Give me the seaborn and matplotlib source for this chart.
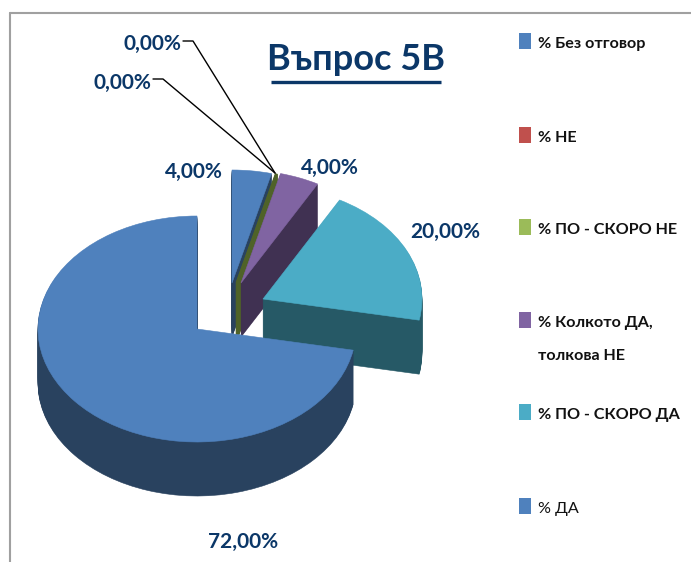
import matplotlib
matplotlib.use("Agg")
import matplotlib.pyplot as plt
import seaborn as sns

categories = ["% Без отговор", "% НЕ", "% ПО - СКОРО НЕ",
              "% Колкото ДА,\nтолкова НЕ", "% ПО - СКОРО ДА", "% ДА"]
values = [4, 0, 0, 4, 20, 72]
value_labels = ["4,00%", "0,00%", "0,00%", "4,00%", "20,00%", "72,00%"]
title = "Въпрос 5В"

top_colors = sns.color_palette(["#4F81BD", "#C0504D", "#4F6228", "#8064A2", "#4BACC6", "#4F81BD"])
wall_colors = sns.color_palette(["#29425F", "#632423", "#4F6228", "#403152", "#265966", "#29425F"])
legend_colors = ["#4F81BD", "#C0504D", "#9BBB59", "#8064A2", "#4BACC6", "#4F81BD"]

W, H = 691, 562
RX, RY = 159, 113
DEPTH = 54
SQUASH = RY / RX
TEXT_BLUE = "#0B3768"

sns.set_theme(style="white")
plt.rcParams["font.family"] = ["Lato", "Roboto", "DejaVu Sans"]

# apex of every slice in image pixels (the slices are pulled apart by different amounts)
apex = [(232, 283), (237, 283), (237, 283), (241, 283), (263, 299), (197, 329)]
# zero slices only show through their edge
edge_widths = [0.4, 0, 2.2, 0.4, 0.4, 0.4]
label_pos = [(194, 172), (122, 83), (152, 44), (330, 168), (445, 232), (243, 542)]


def to_data(px, py):
    return px, (H - py) / SQUASH


def draw_layer(ax, offset, colors, z_step):
    wedges, _ = ax.pie(values, startangle=90, counterclock=False, radius=RX)
    for i, wedge in enumerate(wedges):
        wedge.set_center(to_data(apex[i][0], apex[i][1] + offset))
        wedge.set_facecolor(colors[i])
        wedge.set_edgecolor(colors[i])
        wedge.set_linewidth(edge_widths[i])
        wedge.set_zorder(2 * i + z_step)


fig = plt.figure(figsize=(W / 100, H / 100), dpi=100)
ax = fig.add_axes([0, 0, 1, 1])

for offset in range(DEPTH, 0, -1):
    draw_layer(ax, offset, wall_colors, 1)
draw_layer(ax, 0, top_colors, 2)

ax.set_aspect("auto")
ax.set_xlim(0, W)
ax.set_ylim(0, H / SQUASH)

# overlay in pixel coordinates for the texts, leaders and legend
ov = fig.add_axes([0, 0, 1, 1], zorder=5)
ov.set_xlim(0, W)
ov.set_ylim(H, 0)
ov.axis("off")
ov.patch.set_alpha(0)

ov.text(356, 60, title, fontsize=26, fontweight="bold", color=TEXT_BLUE, ha="center", va="center")
ov.plot([271, 441], [82, 82], color=TEXT_BLUE, lw=2.4, solid_capstyle="butt")

for lab, (x, y) in zip(value_labels, label_pos):
    ov.text(x, y, lab, fontsize=15, fontweight="bold", color=TEXT_BLUE, ha="center", va="center")

# leader lines of the two zero labels
ov.plot([183, 193, 275], [41, 41, 173], color="black", lw=1)
ov.plot([153, 163, 275], [79, 79, 173], color="black", lw=1)

# legend
legend_y = [41, 135, 227, 320, 412, 506]
for cat, col, y in zip(categories, legend_colors, legend_y):
    ov.add_patch(plt.Rectangle((519, y - 8), 12, 16, color=col, lw=0))
    ov.text(538, y - 4, cat, fontsize=11.6, fontweight="bold" if cat != "% ДА" else "normal",
            color="#111111", ha="left", va="top", linespacing=2.7)

# chart frame
ov.plot([10, 10], [13, H], color="#A0A0A0", lw=1.5)
ov.plot([10, W], [13, 13], color="#A0A0A0", lw=1.5)

fig.savefig("out.png", dpi=100)
